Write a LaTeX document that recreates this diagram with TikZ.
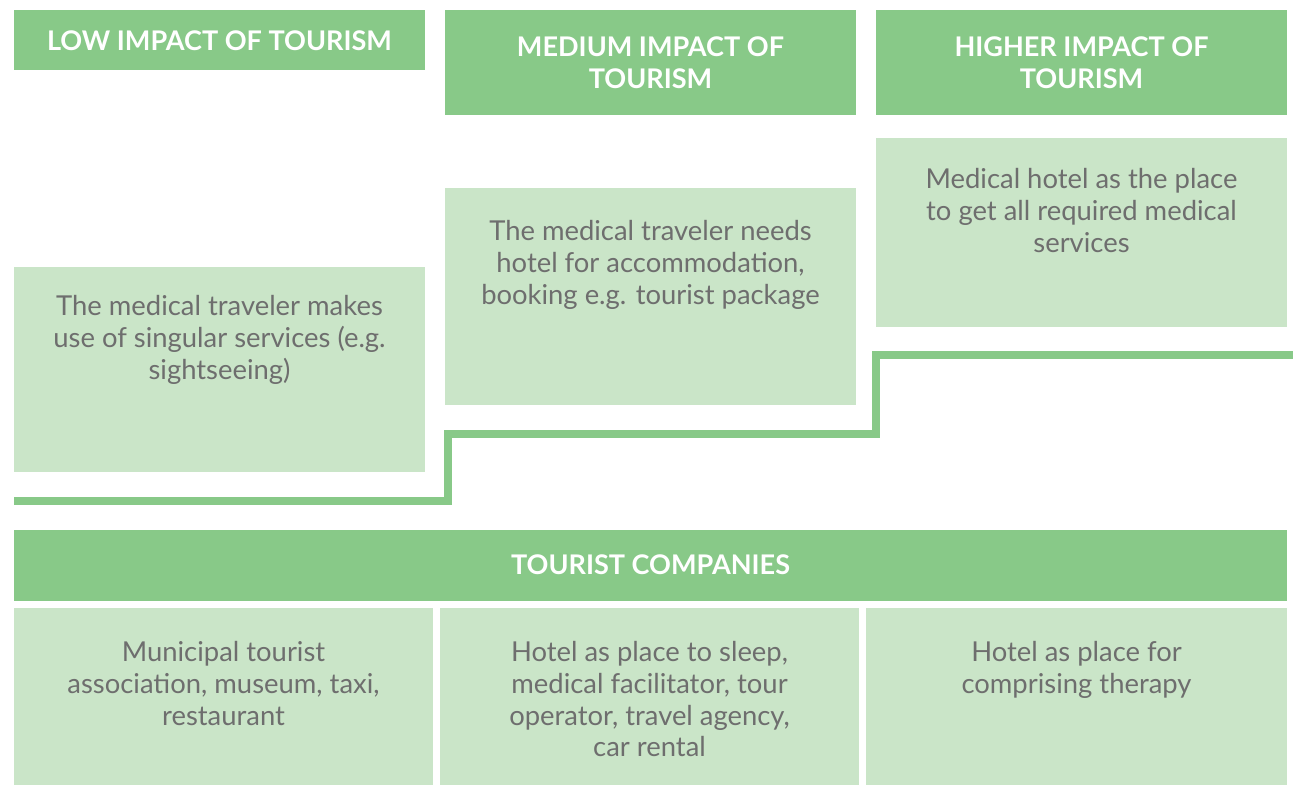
\documentclass[tikz,border=0pt]{standalone}
\usepackage{fontspec}
\setmainfont{Lato}
\usetikzlibrary{fit}
\definecolor{dg}{HTML}{88C988}
\definecolor{lg}{HTML}{CAE5C8}
\definecolor{tg}{HTML}{6E6E6E}
\tikzset{
  x=0.02cm, y=-0.02cm,
  hdr/.style={fill=dg, draw=none, inner sep=0pt},
  cell/.style={fill=lg, draw=none, inner sep=0pt},
  hdrtext/.style={text=white, font=\bfseries\fontsize{15.4pt}{18.1pt}\selectfont, align=center, inner sep=0pt},
  celltext/.style={text=tg, font=\fontsize{15.6pt}{18.1pt}\selectfont, align=center, anchor=north, inner sep=0pt},
  stepline/.style={draw=dg, line width=0.16cm},
}
\begin{document}
\begin{tikzpicture}
\useasboundingbox (0,0) rectangle (1293,785);
% headers
\node[hdr, fit={(14,10) (425,70)}] (h1) {};
\node[hdr, fit={(445,10) (856,115)}] (h2) {};
\node[hdr, fit={(876,10) (1287,115)}] (h3) {};
\node[hdrtext] (t1) at ([yshift=-0.02cm]h1.center) {LOW IMPACT OF TOURISM};
\node[hdrtext] (t2) at (h2.center) {MEDIUM IMPACT OF\\TOURISM};
\node[hdrtext] (t3) at (h3.center) {HIGHER IMPACT OF\\TOURISM};
% impact cells
\node[cell, fit={(14,267) (425,472)}] (c1) {};
\node[cell, fit={(445,188) (856,405)}] (c2) {};
\node[cell, fit={(876,138) (1287,327)}] (c3) {};
\node[celltext] (d1) at (219.5,295) {The medical traveler makes\\use of singular services (e.g.\\sightseeing)};
\node[celltext] (d2) at (650.5,220) {The medical traveler needs\\hotel for accommodation,\\booking e.g. tourist package};
\node[celltext] (d3) at (1081.5,168) {Medical hotel as the place\\to get all required medical\\services};
% step line
\coordinate (s0) at (14,501);
\coordinate (s1) at (448,501);
\coordinate (s2) at (448,434);
\coordinate (s3) at (876,434);
\coordinate (s4) at (876,355);
\coordinate (s5) at (1293,355);
\draw[stepline] (s0) -- (s1) -- (s2) -- (s3) -- (s4) -- (s5);
% tourist companies
\node[hdr, fit={(14,530) (1287,601)}] (tc) {};
\node[hdrtext] (tct) at ([yshift=0.02cm]tc.center) {TOURIST COMPANIES};
\node[cell, fit={(14,608) (433,785)}] (b1) {};
\node[cell, fit={(440,608) (859,785)}] (b2) {};
\node[cell, fit={(866,608) (1287,785)}] (b3) {};
\node[celltext] (e1) at (223.5,641) {Municipal tourist\\association, museum, taxi,\\restaurant};
\node[celltext] (e2) at (649.5,641) {Hotel as place to sleep,\\medical facilitator, tour\\operator, travel agency,\\car rental};
\node[celltext] (e3) at (1076.5,641) {Hotel as place for\\comprising therapy};
\end{tikzpicture}
\end{document}
